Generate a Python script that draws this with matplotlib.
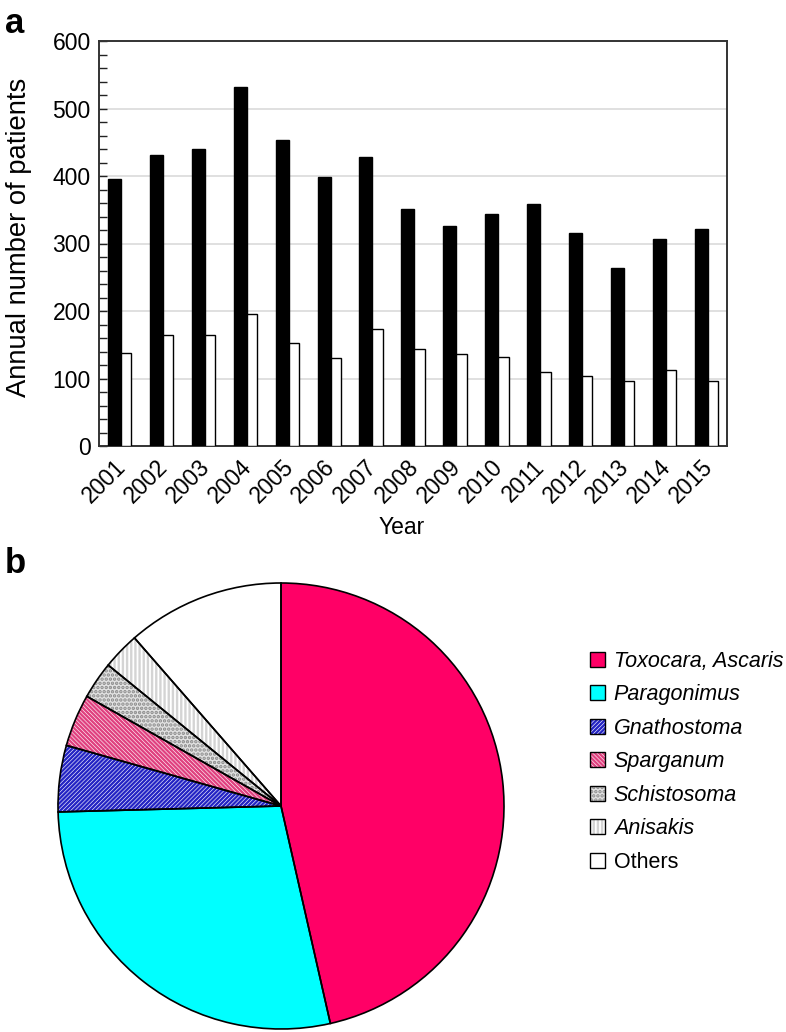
import matplotlib
matplotlib.use("Agg")
import matplotlib.pyplot as plt
from matplotlib.patches import Patch
from matplotlib.legend_handler import HandlerTuple
import matplotlib.transforms as mtransforms
import numpy as np

plt.rcParams['font.family'] = ['Liberation Sans', 'DejaVu Sans']
plt.rcParams['hatch.linewidth'] = 1.7

# ---- data ----
years = ['2001', '2002', '2003', '2004', '2005', '2006', '2007', '2008',
         '2009', '2010', '2011', '2012', '2013', '2014', '2015']
series_black = [396, 431, 440, 532, 453, 398, 428, 351, 326, 343, 358, 315, 263, 306, 322]
series_white = [138, 164, 165, 195, 153, 131, 174, 144, 136, 132, 110, 104, 96, 112, 96]

pie_labels = ['Toxocara, Ascaris', 'Paragonimus', 'Gnathostoma', 'Sparganum',
              'Schistosoma', 'Anisakis', 'Others']
pie_values = [46.4, 28.1, 4.8, 3.8, 2.7, 2.7, 11.4]
pie_face = ['#ff0066', '#00ffff', 'white', 'white', '#e2e2e2', 'white', 'white']
pie_hatch = [None, None, '////////', '\\\\\\\\\\\\\\\\', '....', '||||', None]
pie_hatchcolor = ['#ff0066', '#00ffff', '#2424c4', '#e0407f', '#8a8a8a', '#d4d4d4', 'white']

W, H = 786, 1032
fig = plt.figure(figsize=(W / 100, H / 100), dpi=100)

# ---- panel a ----
ax = fig.add_axes([99 / W, 1 - 446 / H, 628 / W, 405 / H])
x = np.arange(len(years))
bw = 0.31
ax.bar(x - bw / 2, series_black, width=bw, color='black', edgecolor='black', linewidth=1.0, zorder=3)
ax.bar(x + bw / 2 - 0.03, series_white, width=bw - 0.06, color='white', edgecolor='black', linewidth=1.0, zorder=3)
ax.set_xlim(-0.525, 14.46)
ax.set_ylim(0, 600)
ax.set_yticks(np.arange(0, 601, 100))
ax.set_yticks(np.arange(0, 601, 20), minor=True)
ax.yaxis.grid(True, color='#dddddd', linewidth=1.3, zorder=0)
ax.set_axisbelow(True)
ax.tick_params(axis='y', which='both', direction='in', length=6, width=1.0, labelsize=16.5, pad=6, colors='#222222', labelcolor='black')
ax.set_xticks(x)
ax.set_xticklabels(years, rotation=45, ha='right', rotation_mode='anchor', fontsize=16.5)
ax.tick_params(axis='x', length=0, pad=7)
offset = mtransforms.ScaledTranslation(-7 / 100, 0, fig.dpi_scale_trans)
for lab in ax.get_xticklabels():
    lab.set_transform(lab.get_transform() + offset)
for s in ax.spines.values():
    s.set_color('#333333')
    s.set_linewidth(1.4)
ax.set_ylabel('Annual number of patients', fontsize=19.7, va='center', ha='center')
ax.yaxis.set_label_coords(-0.127, 0.515)
ax.set_xlabel('Year', fontsize=16.5, va='center', ha='center')
ax.xaxis.set_label_coords(0.482, -0.2)

fig.text(5 / W, 1 - 33 / H, 'a', fontsize=25, fontweight='bold', ha='left', va='baseline')
fig.text(5 / W, 1 - 573 / H, 'b', fontsize=25, fontweight='bold', ha='left', va='baseline')

# ---- panel b ----
R = 223
cx, cy = 281, 806
pax = fig.add_axes([(cx - R) / W, 1 - (cy + R) / H, 2 * R / W, 2 * R / H])
wedges, _ = pax.pie(pie_values, startangle=90, counterclock=False, colors=pie_face,
                    wedgeprops=dict(linewidth=0))
for w, h, hc in zip(wedges, pie_hatch, pie_hatchcolor):
    w.set_edgecolor(hc)
    w.set_linewidth(0)
    if h:
        w.set_hatch(h)
    w.set_clip_on(False)
outline, _ = pax.pie(pie_values, startangle=90, counterclock=False,
                     wedgeprops=dict(facecolor='none', edgecolor='black', linewidth=1.2))
for w in outline:
    w.set_clip_on(False)
pax.set_xlim(-1, 1)
pax.set_ylim(-1, 1)
pax.set_aspect('equal')

handles = []
for f, h, hc in zip(pie_face, pie_hatch, pie_hatchcolor):
    p1 = Patch(facecolor=f, edgecolor=hc, linewidth=0, hatch=h)
    p2 = Patch(facecolor='none', edgecolor='black', linewidth=1.0)
    handles.append((p1, p2))
leg = fig.legend(handles, pie_labels, loc='upper left',
                 handler_map={tuple: HandlerTuple(ndivide=1, pad=0)},
                 bbox_to_anchor=(590 / W, 1 - 651 / H), frameon=False,
                 fontsize=15.5, handlelength=0.7, handleheight=0.7,
                 handletextpad=0.4, labelspacing=0.58, borderpad=0, borderaxespad=0)
for t in leg.get_texts():
    if t.get_text() != 'Others':
        t.set_style('italic')

fig.savefig('out.png', dpi=100)
